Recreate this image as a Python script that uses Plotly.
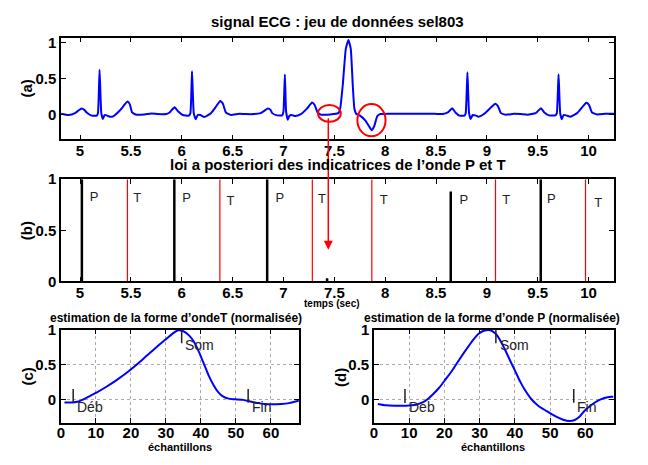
import plotly.graph_objects as go

# ---------------- data ----------------
# (a) ECG signal (time in s, amplitude)
ecg_t = [4.814, 4.886, 4.951, 4.984, 5.016, 5.042, 5.065, 5.114, 5.163, 5.176, 5.192, 5.209, 5.225, 5.241,
         5.261, 5.293, 5.326, 5.391, 5.44, 5.466, 5.489, 5.512, 5.554, 5.635, 5.701, 5.766, 5.847, 5.88,
         5.929, 5.968, 6.01, 6.069, 6.085, 6.101, 6.118, 6.137, 6.157, 6.183, 6.222, 6.287, 6.336, 6.378,
         6.404, 6.434, 6.483, 6.564, 6.629, 6.71, 6.775, 6.815, 6.847, 6.873, 6.889, 6.938, 6.987, 7.0,
         7.014, 7.026, 7.042, 7.059, 7.078, 7.117, 7.166, 7.231, 7.281, 7.306, 7.336, 7.369, 7.427, 7.492,
         7.541, 7.558, 7.584, 7.613, 7.639, 7.662, 7.681, 7.697, 7.714, 7.753, 7.802, 7.844, 7.867, 7.893,
         7.922, 7.948, 8.111, 8.307, 8.486, 8.567, 8.616, 8.659, 8.691, 8.731, 8.779, 8.792, 8.809, 8.825,
         8.841, 8.861, 8.887, 8.92, 8.975, 9.04, 9.083, 9.109, 9.138, 9.187, 9.268, 9.334, 9.399, 9.48,
         9.532, 9.565, 9.61, 9.675, 9.688, 9.705, 9.721, 9.737, 9.754, 9.78, 9.822, 9.887, 9.936, 9.978,
         10.004, 10.034, 10.083, 10.164, 10.252]
ecg_v = [0.013, -0.004, 0.022, 0.058, 0.085, 0.067, 0.031, -0.013, -0.013, 0.022, 0.624, 0.022, -0.058, -0.004,
         -0.009, -0.027, -0.022, 0.058, 0.143, 0.183, 0.147, 0.031, 0.0, 0.004, 0.018, 0.009, 0.009, 0.031,
         0.102, 0.040, -0.004, -0.013, 0.022, 0.602, 0.022, -0.062, -0.004, -0.004, -0.031, 0.022, 0.111, 0.192,
         0.156, 0.031, -0.004, 0.013, 0.009, 0.009, 0.022, 0.058, 0.085, 0.067, 0.022, -0.009, -0.009, 0.045,
         0.557, 0.045, -0.071, -0.013, -0.004, -0.018, 0.004, 0.085, 0.169, 0.138, 0.031, 0.0, 0.0, 0.009,
         0.022, 0.089, 0.423, 0.914, 1.038, 0.914, 0.423, 0.089, 0.013, -0.013, -0.076, -0.165, -0.214, -0.156,
         -0.022, 0.009, 0.013, 0.013, 0.013, 0.009, 0.031, 0.089, 0.031, -0.013, -0.013, 0.022, 0.588, 0.022,
         -0.058, -0.004, -0.009, -0.027, 0.013, 0.102, 0.152, 0.120, 0.022, 0.0, 0.013, 0.009, 0.0, 0.022,
         0.089, 0.031, -0.009, -0.009, 0.022, 0.561, 0.022, -0.062, -0.004, -0.009, -0.027, 0.022, 0.102, 0.165,
         0.138, 0.031, 0.004, 0.013, 0.013]

# (b) posterior indicators
p_times = [5.018, 5.927, 6.840, 8.645, 9.530, 7.429]
p_heights = [1.0, 1.0, 1.0, 0.88, 1.0, 0.03]
t_times = [5.466, 6.375, 7.284, 7.869, 9.085, 9.970]
t_heights = [1.0, 1.0, 1.0, 1.0, 1.0, 1.0]
lbl_text = ["P", "T", "P", "T", "P", "T", "T", "P", "T", "P", "T"]
lbl_t = [5.139, 5.563, 6.048, 6.48, 6.965, 7.38, 7.987, 8.774, 9.19, 9.634, 10.095]
lbl_v = [0.82, 0.81, 0.81, 0.78, 0.81, 0.80, 0.79, 0.79, 0.79, 0.80, 0.76]

# (c) estimated T wave shape
tw_x = [1, 3.3, 4.7, 6.1, 7.5, 10.3, 13.1, 15.9, 18.7, 21.6, 24.4, 27.2, 30.0, 32.0, 33.5, 35.0, 36.6,
        38.0, 39.4, 40.8, 42.2, 43.6, 45.0, 46.4, 47.9, 49.7, 52.1, 54.4, 56.3, 58.2, 60.5, 62.9, 65.2, 68]
tw_v = [-0.046, -0.046, -0.037, -0.009, 0.028, 0.10, 0.185, 0.278, 0.38, 0.50, 0.625, 0.75, 0.87, 0.955,
        1.0, 0.985, 0.926, 0.833, 0.69, 0.52, 0.347, 0.208, 0.10, 0.037, 0.009, 0.0, -0.009, -0.037, -0.056,
        -0.069, -0.074, -0.069, -0.056, -0.023]

# (d) estimated P wave shape
pw_x = [1.1, 3.4, 6.25, 9.07, 11.9, 13.8, 15.2, 16.6, 18.5, 20.3, 22.2, 24.1, 26.0, 27.9, 29.7, 31.4, 33.0,
        34.4, 35.8, 37.2, 38.6, 40.1, 41.5, 42.9, 44.7, 46.6, 49.0, 51.3, 53.7, 55.5, 57.0, 58.4, 59.8, 61.7,
        63.6, 65.4, 67.3, 68]
pw_v = [-0.069, -0.088, -0.093, -0.093, -0.079, -0.046, 0.0, 0.065, 0.167, 0.287, 0.417, 0.565, 0.708, 0.843,
        0.949, 0.995, 1.0, 0.955, 0.856, 0.718, 0.565, 0.407, 0.255, 0.13, 0.0, -0.093, -0.171, -0.241, -0.296,
        -0.315, -0.30, -0.25, -0.167, -0.083, -0.019, 0.019, 0.037, 0.037]

# landmark labels
mark_names = ["Déb", "Som", "Fin"]
mark_c = [3.5, 34.5, 53.5]
mark_d = [8.8, 34.6, 56.7]
mark_bar_top = [0.148, 1.04, 0.148]
mark_bar_bot = [-0.056, 0.81, -0.05]
mark_txt_v = [-0.116, 0.787, -0.111]

# ---------------- figure ----------------
BLUE = "#0000ff"
RED = "#ff0000"
FONT = "Liberation Sans"

fig = go.Figure()

fig.add_trace(go.Scatter(x=ecg_t, y=ecg_v, mode="lines", xaxis="x", yaxis="y",
                         line=dict(color=BLUE, width=2, shape="spline", smoothing=0.4),
                         showlegend=False, hoverinfo="skip"))


def stems(xs, hs):
    sx, sy = [], []
    for x, h in zip(xs, hs):
        sx += [x, x, None]
        sy += [0, h, None]
    return sx, sy


bx, by = stems(p_times, p_heights)
fig.add_trace(go.Scatter(x=bx, y=by, mode="lines", xaxis="x2", yaxis="y2",
                         line=dict(color="black", width=2.5), showlegend=False, hoverinfo="skip"))
rx, ry = stems(t_times, t_heights)
fig.add_trace(go.Scatter(x=rx, y=ry, mode="lines", xaxis="x2", yaxis="y2",
                         line=dict(color=RED, width=1.2), showlegend=False, hoverinfo="skip"))
fig.add_trace(go.Scatter(x=lbl_t, y=lbl_v, mode="text", text=lbl_text, xaxis="x2", yaxis="y2",
                         textfont=dict(family=FONT, size=13, color="#222"), showlegend=False,
                         hoverinfo="skip"))

fig.add_trace(go.Scatter(x=tw_x, y=tw_v, mode="lines", xaxis="x3", yaxis="y3",
                         line=dict(color=BLUE, width=2, shape="spline", smoothing=0.8),
                         showlegend=False, hoverinfo="skip"))
fig.add_trace(go.Scatter(x=pw_x, y=pw_v, mode="lines", xaxis="x4", yaxis="y4",
                         line=dict(color=BLUE, width=2, shape="spline", smoothing=0.8),
                         showlegend=False, hoverinfo="skip"))

tickfont = dict(family=FONT, size=15, color="black", weight="bold")


def ax(domain, rng, tickvals, anchor, grid=False, standoff=0):
    d = dict(domain=domain, range=rng, tickvals=tickvals, anchor=anchor,
             showline=True, linecolor="black", linewidth=1.5, mirror="ticks",
             ticks="inside", ticklen=5, tickcolor="black", tickwidth=1,
             tickfont=tickfont, zeroline=False, showgrid=grid, ticklabelstandoff=standoff)
    if grid:
        d.update(gridcolor="#aaaaaa", griddash="dot", gridwidth=1)
    return d


xa_dom = [0.0887, 0.9475]
xticks_a = [5, 5.5, 6, 6.5, 7, 7.5, 8, 8.5, 9, 9.5, 10]
fig.update_layout(
    width=648, height=465,
    margin=dict(l=0, r=0, t=0, b=0),
    paper_bgcolor="white", plot_bgcolor="white",
    xaxis=ax(xa_dom, [4.814, 10.252], xticks_a, "y", standoff=-3),
    yaxis=ax([0.709, 0.936], [-0.342, 1.069], [0, 0.5, 1], "x"),
    xaxis2=ax(xa_dom, [4.814, 10.252], xticks_a, "y2", standoff=-3),
    yaxis2=ax([0.392, 0.620], [0, 1], [0, 0.5, 1], "x2"),
    xaxis3=ax([0.0884, 0.4579], [0, 68], [0, 10, 20, 30, 40, 50, 60], "y3", grid=True, standoff=-4),
    yaxis3=ax([0.0765, 0.2845], [-0.34, 1.01], [0, 0.5, 1], "x3", grid=True),
    xaxis4=ax([0.5745, 0.9465], [0, 68], [0, 10, 20, 30, 40, 50, 60], "y4", grid=True, standoff=-4),
    yaxis4=ax([0.0765, 0.2845], [-0.34, 1.01], [0, 0.5, 1], "x4", grid=True),
)

# ellipses in (a)
ellipses = [(7.34, 7.564, -0.098, 0.134), (7.727, 8.004, -0.299, 0.147)]
for x0, x1, y0, y1 in ellipses:
    fig.add_shape(type="circle", xref="x", yref="y", x0=x0, x1=x1, y0=y0, y1=y1,
                  line=dict(color=RED, width=2))

# arrow from ellipse down to panel (b)
fig.add_annotation(x=7.441, y=0.31, xref="x2", yref="y2", ax=0, ay=-133, axref="pixel", ayref="pixel",
                   text="", showarrow=True, arrowhead=2, arrowsize=1.2, arrowwidth=1.5, arrowcolor=RED)

# landmark bars and labels in (c) and (d)
for xs, xr, yr in [(mark_c, "x3", "y3"), (mark_d, "x4", "y4")]:
    for name, xm, top, bot, tv in zip(mark_names, xs, mark_bar_top, mark_bar_bot, mark_txt_v):
        fig.add_shape(type="line", xref=xr, yref=yr, x0=xm, x1=xm, y0=bot, y1=top,
                      line=dict(color="#222", width=1.5))
        fig.add_annotation(x=xm + 0.5, y=tv, xref=xr, yref=yr, text=name, showarrow=False,
                           xanchor="left", yanchor="middle",
                           font=dict(family=FONT, size=14, color="#222"))


# titles and labels
def txt(x, y, s, size, bold=True, angle=0):
    fig.add_annotation(x=x / 648, y=1 - y / 465, xref="paper", yref="paper", text=s, showarrow=False,
                       xanchor="center", yanchor="middle", textangle=angle,
                       font=dict(family=FONT, size=size, color="black", weight="bold" if bold else "normal"))


txt(335.7, 13, "signal ECG : jeu de données sel803", 15)
txt(336.5, 161, "loi a posteriori des indicatrices de l’onde P et T", 15)
txt(330, 305.5, "temps (sec)", 10)
txt(173.5, 320.5, "estimation de la forme d’ondeT (normalisée)", 12)
txt(491, 320.5, "estimation de la forme d’onde P (normalisée)", 12)
txt(177, 455, "échantillons", 11)
txt(492, 455, "échantillons", 11)
txt(22.7, 83, "(a)", 15, angle=-90)
txt(22.7, 230, "(b)", 15, angle=-90)
txt(22.7, 382, "(c)", 15, angle=-90)
txt(338, 382, "(d)", 15, angle=-90)

fig.write_html("out.html", config={"displayModeBar": False},
               post_script="document.body.style.margin='0';document.body.style.overflow='hidden';")
